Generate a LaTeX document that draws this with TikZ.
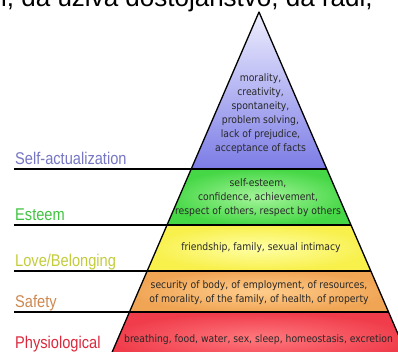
\documentclass[tikz,border=0pt]{standalone}
\usepackage{fontspec}
\setmainfont{Liberation Sans}
\newfontfamily\inner{DejaVu Sans Condensed}
\definecolor{saC}{RGB}{118,118,196}
\definecolor{esC}{RGB}{64,196,64}
\definecolor{lbC}{RGB}{196,204,60}
\definecolor{sfC}{RGB}{206,136,80}
\definecolor{phC}{RGB}{220,40,60}
\definecolor{txC}{RGB}{40,40,40}
\tikzset{
  lvl/.style={anchor=base west, inner sep=0pt, font=\fontsize{17}{17}\selectfont},
  intext/.style={inner sep=0pt, align=center, text=txC, font=\inner\fontsize{10.3}{14}\selectfont},
  band/.style={line width=1.3pt, draw=black},
}
\newcommand{\nar}[1]{\scalebox{0.86}[1]{#1}}
\begin{document}
\begin{tikzpicture}[x=1pt,y=-1pt]
\useasboundingbox (0,0) rectangle (398,352);
\fill[white] (0,0) rectangle (398,352);
% cut text at top
\node[anchor=base west, inner sep=0pt, font=\fontsize{26}{26}\selectfont] (top) at (1,7) {i, da uživa dostojanstvo, da radi,};
% corners
\coordinate (apex) at (259,12);
\coordinate (l1) at (191.2,169); \coordinate (r1) at (326.8,169);
\coordinate (l2) at (167.0,225); \coordinate (r2) at (351.0,225);
\coordinate (l3) at (147.1,271); \coordinate (r3) at (370.9,271);
\coordinate (l4) at (129.4,312); \coordinate (r4) at (388.6,312);
\coordinate (l5) at (107.0,364); \coordinate (r5) at (411.0,364);
% bands
\shade[top color={rgb,255:red,238;green,238;blue,255}, bottom color={rgb,255:red,124;green,124;blue,230}] (apex) -- (r1) -- (l1) -- cycle;
\shade[inner color={rgb,255:red,165;green,245;blue,155}, outer color={rgb,255:red,70;green,215;blue,70}] (l1) -- (r1) -- (r2) -- (l2) -- cycle;
\shade[inner color={rgb,255:red,255;green,255;blue,165}, outer color={rgb,255:red,248;green,240;blue,75}] (l2) -- (r2) -- (r3) -- (l3) -- cycle;
\shade[inner color={rgb,255:red,255;green,205;blue,140}, outer color={rgb,255:red,240;green,165;blue,85}] (l3) -- (r3) -- (r4) -- (l4) -- cycle;
\shade[inner color={rgb,255:red,255;green,120;blue,125}, outer color={rgb,255:red,240;green,60;blue,75}] (l4) -- (r4) -- (r5) -- (l5) -- cycle;
% outline
\draw[band, line join=round] (l5) -- (apex) -- (r5);
% divider lines extended as label underlines
\coordinate (s1) at (14,169); \coordinate (s2) at (14,225);
\coordinate (s3) at (14,271); \coordinate (s4) at (14,312);
\draw[band] (s1) -- (r1);
\draw[band] (s2) -- (r2);
\draw[band] (s3) -- (r3);
\draw[band] (s4) -- (r4);
% level labels
\node[lvl, text=saC] (sa) at (15,165) {\nar{Self-actualization}};
\node[lvl, text=esC] (es) at (15,221) {\nar{Esteem}};
\node[lvl, text=lbC] (lb) at (15,266) {\nar{Love/Belonging}};
\node[lvl, text=sfC] (sf) at (15,307) {\nar{Safety}};
\node[lvl, text=phC] (ph) at (15,348) {\nar{Physiological}};
% inner texts
\node[intext] (tsa) at (260.5,114) {morality,\\creativity,\\spontaneity,\\problem solving,\\lack of prejudice,\\acceptance of facts};
\node[intext] (tes) at (258,197.5) {self-esteem,\\confidence, achievement,\\respect of others, respect by others};
\node[intext] (tlb) at (261,248) {friendship, family, sexual intimacy};
\node[intext] (tsf) at (259,293) {security of body, of employment, of resources,\\of morality, of the family, of health, of property};
\node[intext] (tph) at (258.5,340) {breathing, food, water, sex, sleep, homeostasis, excretion};
\end{tikzpicture}
\end{document}
